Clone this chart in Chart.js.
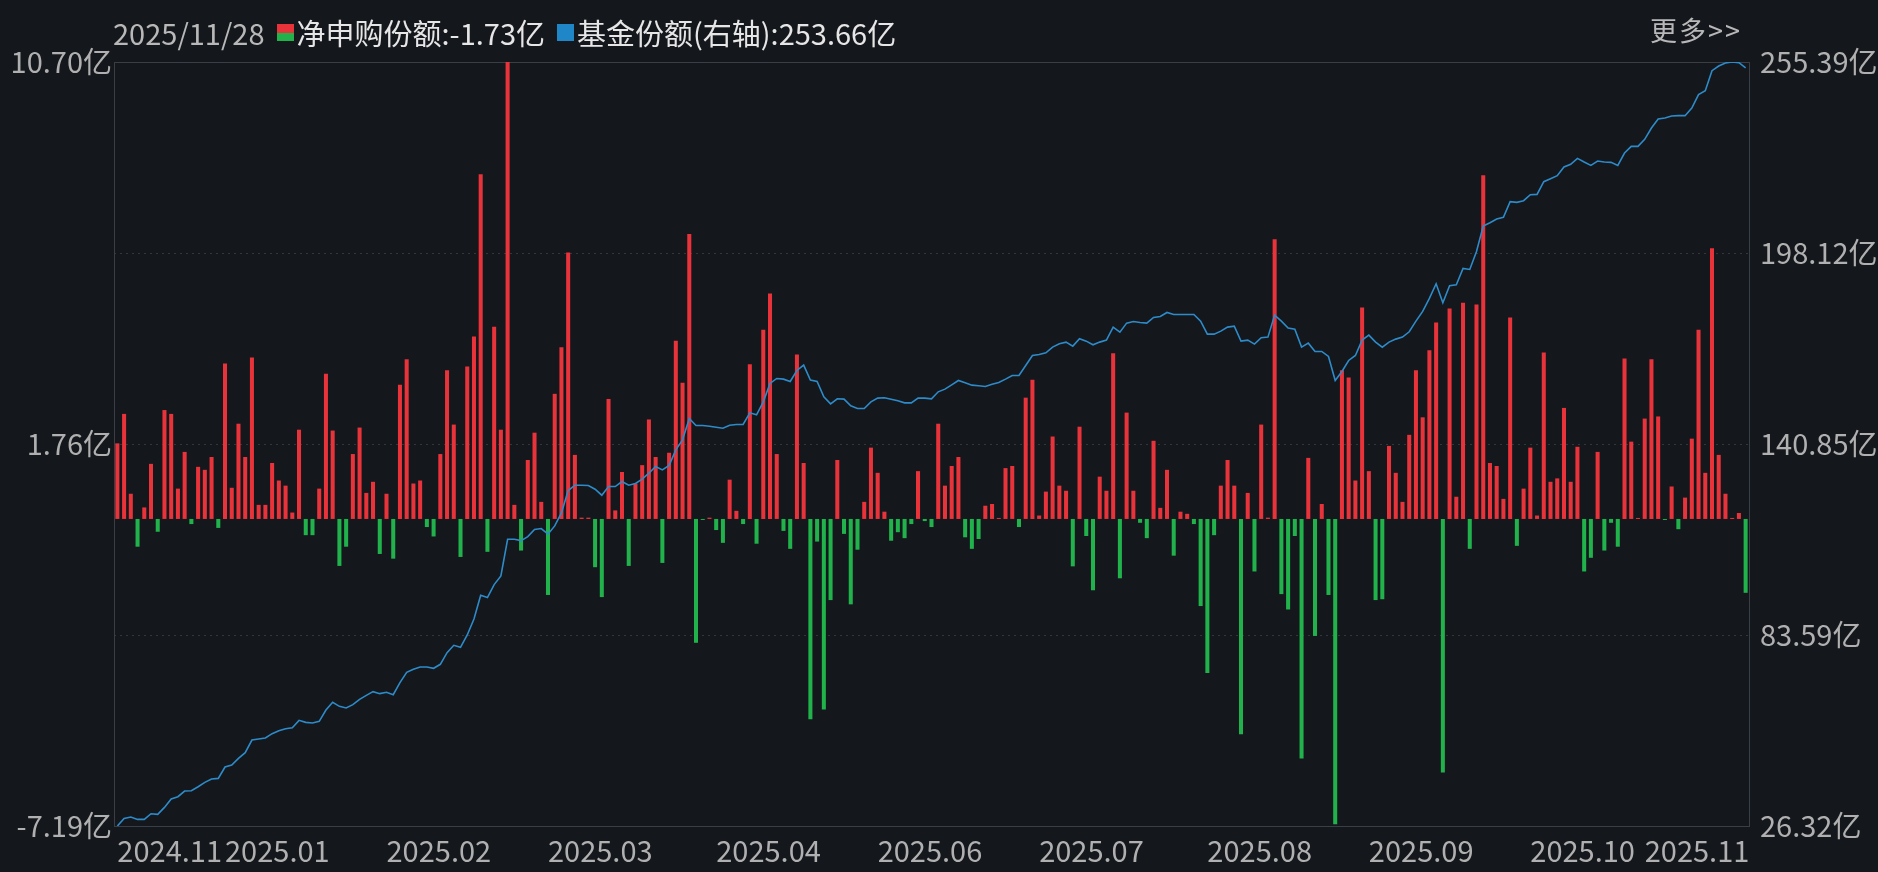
<!DOCTYPE html>
<html>
<head>
<meta charset="utf-8">
<script src="https://cdn.jsdelivr.net/npm/chart.js@4.4.1/dist/chart.umd.min.js"></script>
<style>
  html, body { margin: 0; padding: 0; background: #14171c; overflow: hidden; }
  #wrap { position: relative; width: 1878px; height: 872px; }
  #header { position: absolute; left: 113px; top: 6px; font: 29px "Noto Sans CJK SC", "Noto Sans", sans-serif; color: #e6e6e6; white-space: nowrap; }
  #header span { vertical-align: middle; }
  .sq { display: inline-block; width: 17px; height: 17px; margin: 0 3px 0 12px; vertical-align: middle; }
  #more { position: absolute; left: 1650px; top: 10px; font: 27px "Noto Sans CJK SC", sans-serif; color: #b8b8b8; letter-spacing: 2px; }
</style>
</head>
<body>
<div id="wrap">
  <canvas id="c" width="1878" height="872"></canvas>
  <div id="header">
    <span style="color:#b8b8b8">2025/11/28</span><span class="sq" style="background:linear-gradient(to bottom,#e8333a 50%,#21b24b 50%)"></span><span>净申购份额:-1.73亿</span><span class="sq" style="background:#1f86c8"></span><span>基金份额(右轴):253.66亿</span>
  </div>
  <div id="more">更多&gt;&gt;</div>
</div>
<script>
// net subscription (亿份), one per trading day
const netFlow = [
  1.77, 2.46, 0.59, -0.65, 0.27, 1.29, -0.30, 2.55, 2.46, 0.71,
  1.57, -0.12, 1.22, 1.15, 1.45, -0.21, 3.64, 0.73, 2.23, 1.45,
  3.78, 0.33, 0.33, 1.31, 0.90, 0.78, 0.15, 2.09, -0.38, -0.38,
  0.71, 3.40, 2.07, -1.10, -0.65, 1.52, 2.14, 0.61, 0.87, -0.82,
  0.59, -0.93, 3.14, 3.74, 0.83, 0.90, -0.19, -0.41, 1.52, 3.48,
  2.21, -0.89, 3.57, 4.27, 8.07, -0.77, 4.50, 2.09, 10.70, 0.33,
  -0.74, 1.38, 2.02, 0.40, -1.78, 2.93, 4.02, 6.24, 1.50, 0.03,
  0.03, -1.13, -1.83, 2.81, 0.20, 1.10, -1.10, 0.83, 1.26, 2.33,
  1.45, -1.03, 1.55, 4.17, 3.19, 6.67, -2.90, -0.02, 0.03, -0.26,
  -0.56, 0.92, 0.19, -0.12, 3.62, -0.58, 4.43, 5.28, 1.52, -0.28,
  -0.70, 3.85, 1.31, -4.69, -0.53, -4.46, -1.90, 1.38, -0.35, -2.00,
  -0.72, 0.40, 1.67, 1.08, 0.17, -0.51, -0.31, -0.45, -0.12, 1.12,
  -0.05, -0.19, 2.23, 0.78, 1.24, 1.45, -0.43, -0.70, -0.47, 0.31,
  0.35, 0.02, 1.19, 1.24, -0.19, 2.84, 3.26, 0.08, 0.64, 1.93,
  0.78, 0.66, -1.11, 2.16, -0.40, -1.67, 0.99, 0.66, 3.88, -1.39,
  2.49, 0.66, -0.09, -0.45, 1.83, 0.26, 1.15, -0.86, 0.17, 0.12,
  -0.12, -2.04, -3.61, -0.38, 0.78, 1.38, 0.78, -5.04, 0.61, -1.23,
  2.21, 0.03, 6.55, -1.76, -2.12, -0.40, -5.61, 1.43, -2.74, 0.35,
  -1.78, -7.15, 3.48, 3.31, 0.90, 4.95, 1.12, -1.90, -1.88, 1.71,
  1.08, 0.40, 1.97, 3.48, 2.38, 3.95, 4.60, -5.94, 4.93, 0.52,
  5.06, -0.70, 5.02, 8.05, 1.31, 1.24, 0.47, 4.72, -0.63, 0.71,
  1.67, 0.08, 3.90, 0.87, 0.95, 2.60, 0.87, 1.69, -1.23, -0.91,
  1.57, -0.74, -0.09, -0.65, 3.76, 1.81, 0.02, 2.35, 3.74, 2.40,
  -0.02, 0.76, -0.24, 0.50, 1.88, 4.43, 1.08, 6.34, 1.50, 0.59,
  0.02, 0.14, -1.73
];

// fund shares (亿份), right axis
const fundShares = [
  26.3, 28.6, 29.0, 28.3, 28.3, 30.0, 29.8, 31.9, 34.4, 35.1,
  36.8, 36.9, 38.1, 39.4, 40.4, 40.6, 44.0, 44.6, 46.6, 48.3,
  52.1, 52.4, 52.7, 54.0, 54.9, 55.5, 55.8, 58.0, 57.4, 57.2,
  57.7, 61.1, 63.4, 62.2, 61.7, 62.7, 64.3, 65.5, 66.6, 66.0,
  66.4, 65.7, 69.3, 72.4, 73.3, 74.0, 74.0, 73.6, 74.8, 78.3,
  80.5, 79.9, 83.6, 88.4, 95.5, 94.8, 98.7, 101.3, 112.3, 112.3,
  111.9, 113.1, 115.2, 115.5, 113.8, 116.3, 120.2, 126.9, 128.5, 128.5,
  128.4, 127.3, 125.5, 128.1, 128.1, 129.6, 128.5, 129.0, 130.3, 132.1,
  134.1, 133.1, 134.4, 139.1, 142.1, 148.5, 146.4, 146.4, 146.2, 145.9,
  145.6, 146.5, 146.7, 146.7, 150.2, 149.6, 153.5, 159.0, 160.5, 160.3,
  159.6, 162.9, 164.5, 160.0, 159.6, 155.0, 152.9, 154.4, 154.3, 152.3,
  151.5, 151.5, 153.5, 154.6, 154.7, 154.3, 153.8, 153.2, 153.2, 154.6,
  154.6, 154.4, 156.5, 157.3, 158.6, 159.9, 159.2, 158.5, 158.3, 158.1,
  158.8, 159.3, 160.3, 161.4, 161.4, 164.4, 167.4, 167.7, 168.2, 169.9,
  170.9, 171.4, 170.2, 172.4, 171.7, 170.6, 171.4, 172.0, 175.9, 174.4,
  177.1, 177.6, 177.3, 177.1, 178.8, 179.1, 180.3, 179.7, 179.7, 179.7,
  179.7, 177.7, 173.8, 173.8, 174.7, 175.9, 176.2, 171.7, 172.0, 170.8,
  172.7, 172.9, 179.5, 177.7, 175.6, 175.3, 169.9, 171.1, 168.6, 168.6,
  167.1, 159.9, 162.6, 165.9, 167.4, 172.0, 173.5, 171.4, 169.9, 171.4,
  172.3, 172.9, 174.5, 177.7, 180.6, 184.5, 188.9, 183.2, 188.3, 188.6,
  193.5, 193.2, 198.6, 206.2, 207.2, 208.3, 208.8, 213.5, 213.3, 213.8,
  215.6, 215.7, 219.5, 220.4, 221.3, 223.9, 224.7, 226.5, 225.4, 224.4,
  225.7, 225.4, 225.3, 224.4, 228.1, 230.1, 230.1, 232.2, 235.6, 238.3,
  238.6, 239.2, 239.3, 239.3, 241.6, 245.6, 246.8, 252.8, 254.2, 255.1,
  255.4, 255.2, 253.66
];

// month labels and the bar index where each month starts
const monthNames = ["2024.11", "2025.01", "2025.02", "2025.03", "2025.04", "2025.06", "2025.07", "2025.08", "2025.09", "2025.10", "2025.11"];
const monthStart = [0, 16, 40, 64, 89, 113, 137, 162, 186, 210, 227];

const leftTicks = [-7.19, -2.7175, 1.755, 6.2275, 10.70];
const leftShown = ["-7.19亿", "", "1.76亿", "", "10.70亿"];
const rightTicks = [26.32, 83.59, 140.85, 198.12, 255.39];

const labels = netFlow.map((_, i) => {
  const k = monthStart.indexOf(i);
  return k >= 0 ? monthNames[k] : "";
});

const axisFont = { family: "'Noto Sans CJK SC', 'DejaVu Sans', sans-serif", size: 29 };
const gridCol = "#3a3e46";

// plot frame
const framePlugin = {
  id: "frame",
  beforeDatasetsDraw(chart) {
    const { ctx, chartArea: a } = chart;
    ctx.save();
    ctx.strokeStyle = gridCol;
    ctx.lineWidth = 1;
    ctx.strokeRect(a.left + 0.5, a.top + 0.5, a.right - a.left, a.bottom - a.top);
    ctx.restore();
  }
};

new Chart(document.getElementById("c"), {
  data: {
    labels: labels,
    datasets: [
      {
        type: "line",
        data: fundShares,
        yAxisID: "yR",
        borderColor: "#2e8bc9",
        borderWidth: 1.6,
        pointRadius: 0,
        tension: 0,
        order: 0
      },
      {
        type: "bar",
        data: netFlow,
        yAxisID: "yL",
        backgroundColor: netFlow.map(v => v >= 0 ? "#e8333a" : "#21b24b"),
        barPercentage: 0.6,
        categoryPercentage: 1,
        minBarLength: 1,
        order: 1
      }
    ]
  },
  options: {
    responsive: false,
    animation: false,
    layout: { padding: { top: 62, right: 0, left: 0, bottom: 0 } },
    plugins: { legend: { display: false }, tooltip: { enabled: false } },
    scales: {
      x: {
        offset: true,
        grid: { display: false },
        border: { display: false },
        afterFit(s) { s.height = 46; },
        ticks: {
          autoSkip: false,
          maxRotation: 0,
          align: "start",
          padding: 0,
          color: "#b0b0b0",
          font: axisFont,
          callback(v, i) { return labels[i]; }
        }
      },
      yL: {
        position: "left",
        min: -7.19,
        max: 10.70,
        afterBuildTicks(s) { s.ticks = leftTicks.map(v => ({ value: v })); },
        afterFit(s) { s.width = 114; },
        grid: { color: "#33363d", drawTicks: false },
        border: { display: false, dash: [2, 4] },
        ticks: {
          color: "#b0b0b0",
          font: axisFont,
          padding: 2,
          callback(v, i) { return leftShown[i]; }
        }
      },
      yR: {
        position: "right",
        min: 26.32,
        max: 255.39,
        afterBuildTicks(s) { s.ticks = rightTicks.map(v => ({ value: v })); },
        afterFit(s) { s.width = 129; },
        grid: { display: false },
        border: { display: false },
        ticks: {
          color: "#b0b0b0",
          font: axisFont,
          padding: 3,
          callback(v) { return v.toFixed(2) + "亿"; }
        }
      }
    }
  },
  plugins: [framePlugin]
});
</script>
</body>
</html>
